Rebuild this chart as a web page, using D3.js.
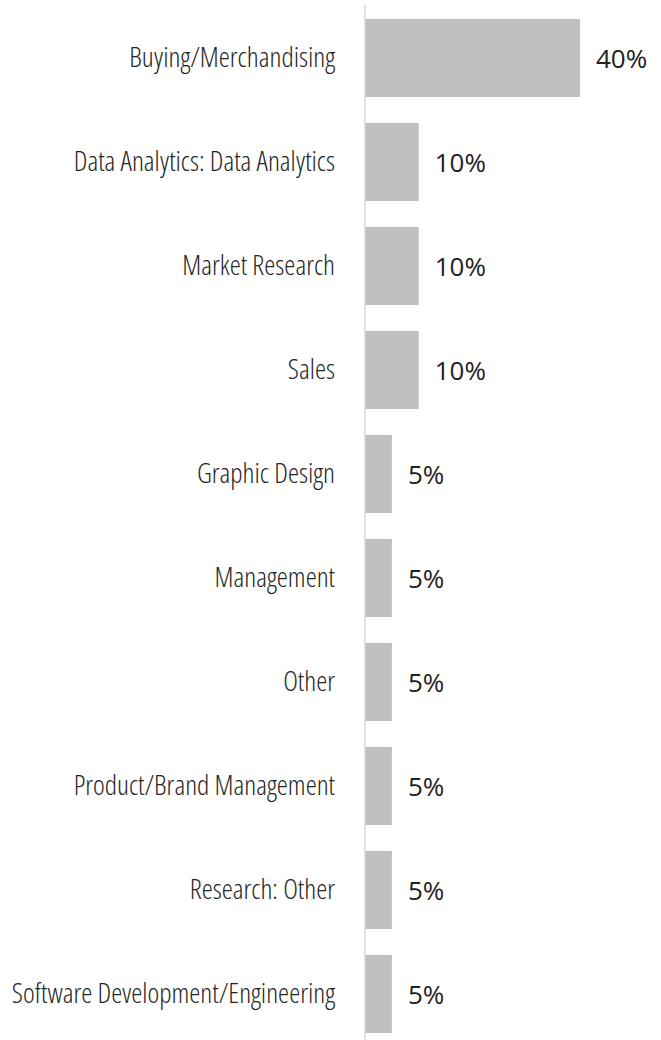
<html>
<meta charset="utf-8" />
<head>
<title>Roles bar chart</title>
<script src="https://cdn.jsdelivr.net/npm/d3@7"></script>
<style>
	body { margin: 0; background: #fff; }
</style>
<script>

// 데이터
const categories = [
	"Buying/Merchandising",
	"Data Analytics: Data Analytics",
	"Market Research",
	"Sales",
	"Graphic Design",
	"Management",
	"Other",
	"Product/Brand Management",
	"Research: Other",
	"Software Development/Engineering"
];
const values = [40, 10, 10, 10, 5, 5, 5, 5, 5, 5];

window.onload = function() {
	const svg = d3.select('svg');
	const axisX = 365;

	const x = d3.scaleLinear().domain([0, 40]).range([axisX, 580]);
	const y = d3.scaleBand().domain(categories).range([6, 1046])
		.paddingInner(0.25).paddingOuter(0.125);

	// 막대
	svg.selectAll('rect')
		.data(values)
		.enter()
		.append('rect')
		.attr('x', x(0))
		.attr('y', function(d, i) { return y(categories[i]); })
		.attr('width', function(d) { return x(d) - x(0); })
		.attr('height', y.bandwidth())
		.style('fill', '#bfbfbf');

	// 세로축 선
	svg.append('line')
		.attr('x1', axisX).attr('x2', axisX)
		.attr('y1', 5).attr('y2', 1040)
		.style('stroke', '#d9d9d9')
		.style('stroke-width', '1.5px');

	// 값 라벨
	svg.selectAll('text.val')
		.data(values)
		.enter()
		.append('text')
		.attr('class', 'val')
		.attr('x', function(d) { return x(d) + 16; })
		.attr('y', function(d, i) { return y(categories[i]) + y.bandwidth() / 2 + 10; })
		.style('font-family', '"Open Sans", sans-serif')
		.style('font-size', '26px')
		.style('fill', '#222')
		.text(function(d) { return d + '%'; });

	// 카테고리 라벨
	svg.selectAll('text.cat')
		.data(categories)
		.enter()
		.append('text')
		.attr('class', 'cat')
		.attr('x', axisX - 30)
		.attr('y', function(d) { return y(d) + y.bandwidth() / 2 + 9; })
		.attr('text-anchor', 'end')
		.style('font-family', '"Open Sans", sans-serif')
		.style('font-weight', 300)
		.style('font-stretch', '75%')
		.style('font-size', '28px')
		.style('fill', '#262626')
		.text(function(d) { return d; });
}

</script>
</head>
<body>
	<svg style="width:661px;height:1040px;display:block;" />
</body>
</html>
